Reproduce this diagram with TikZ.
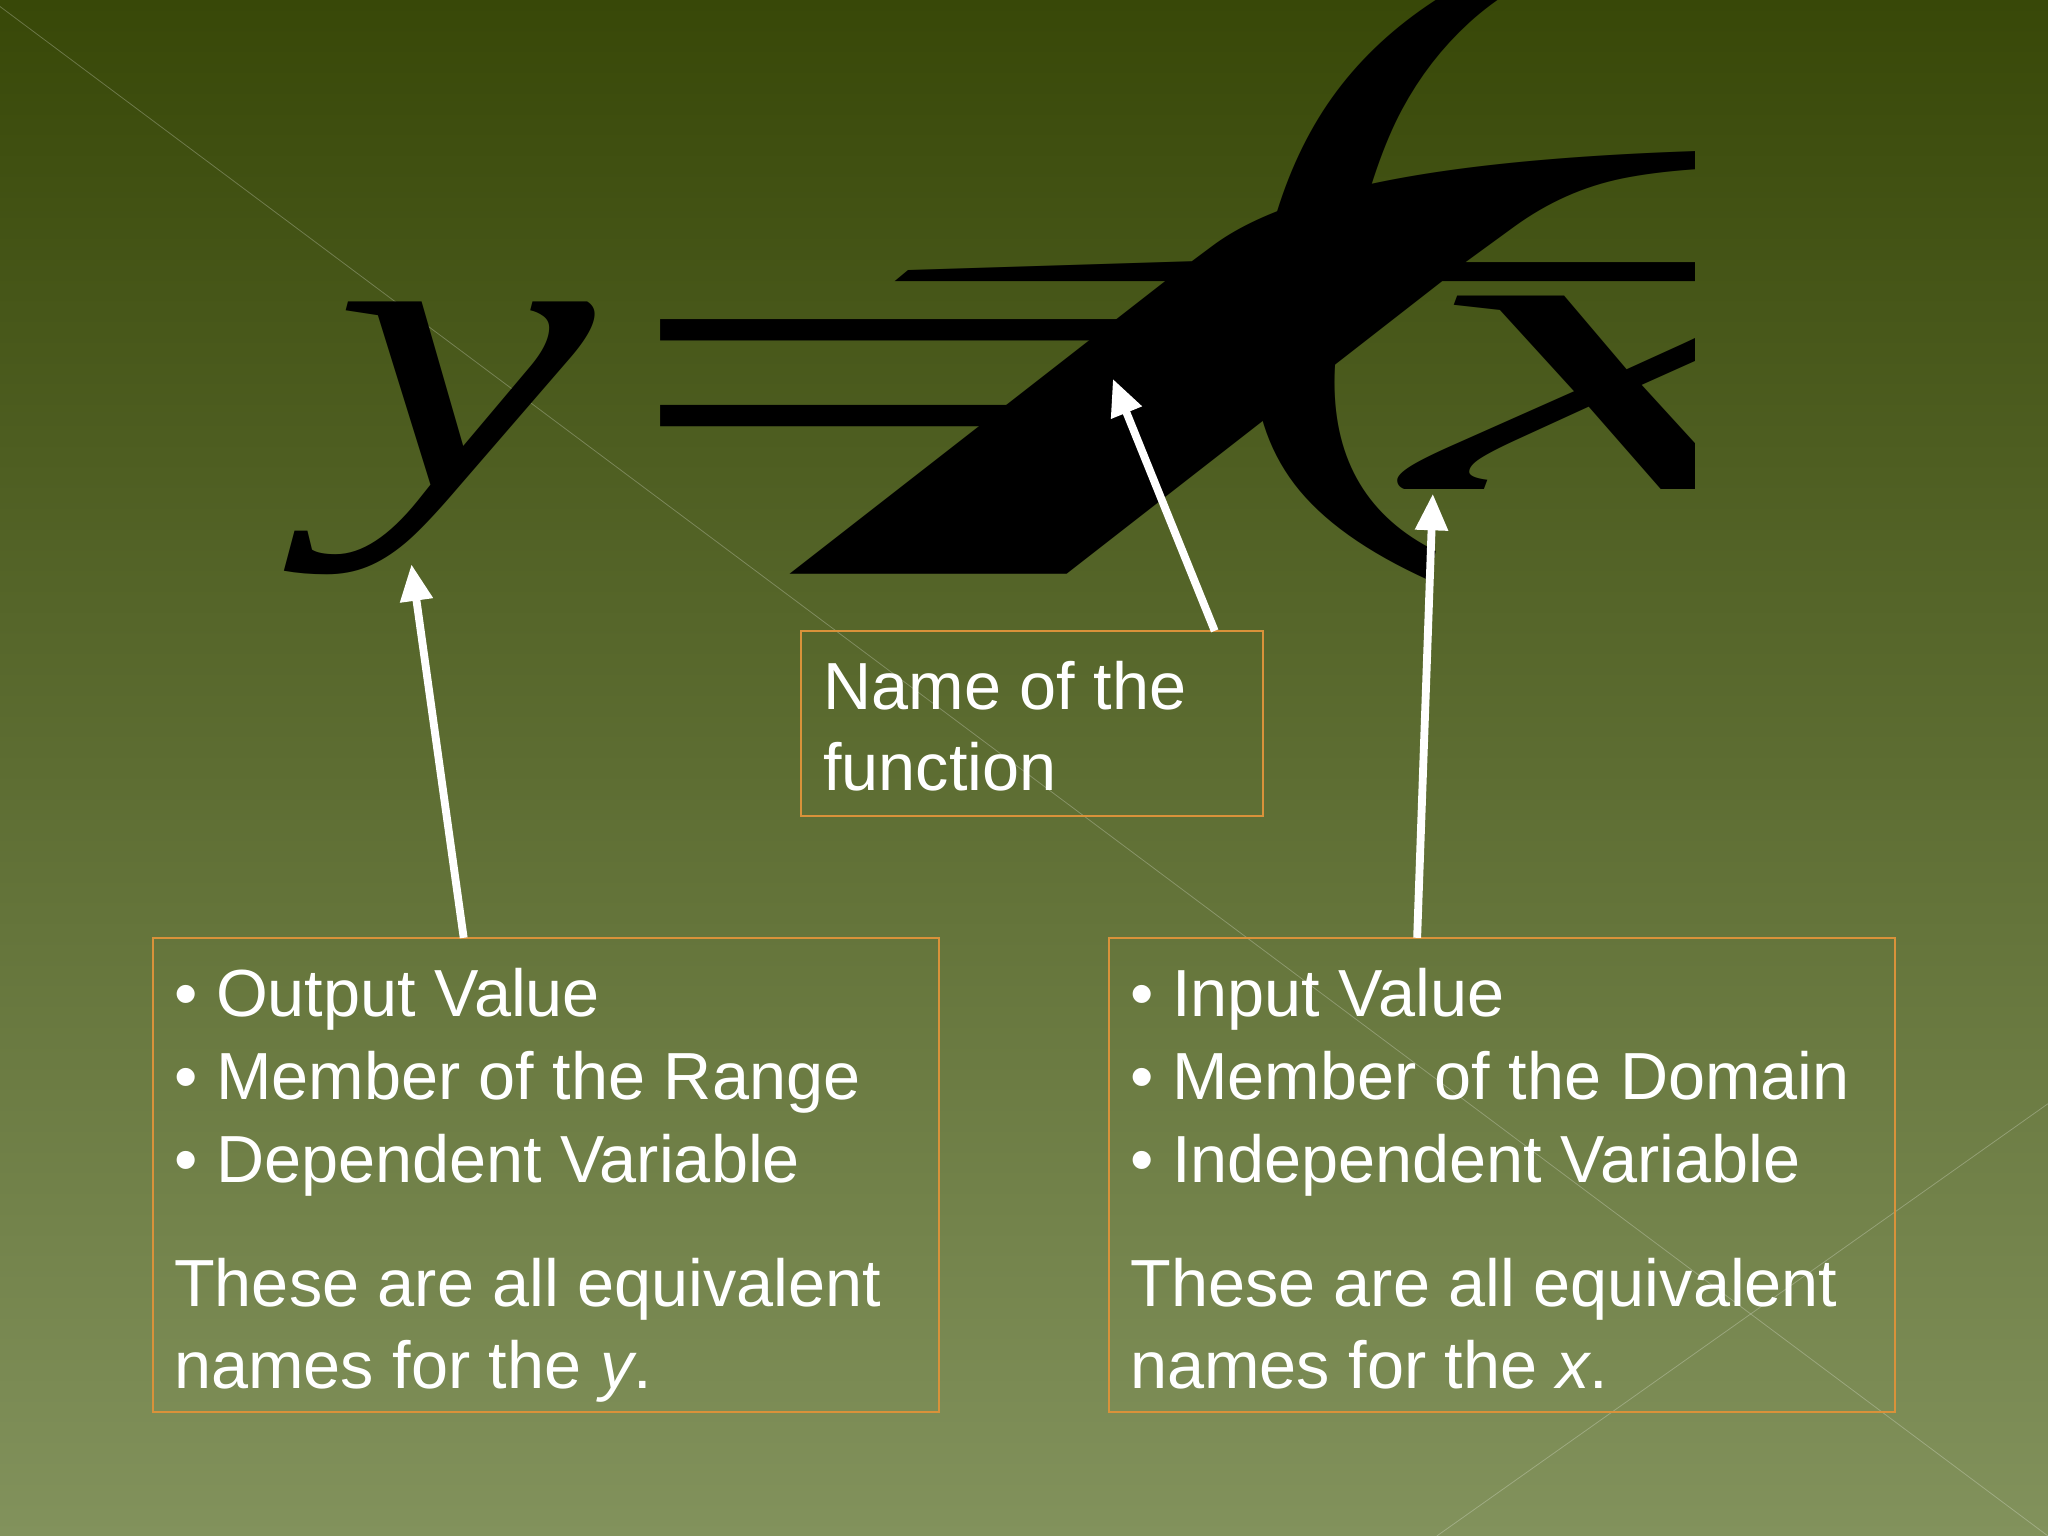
\documentclass[tikz,border=0pt]{standalone}
\usepackage{fontspec}
\setmainfont{Liberation Sans}
\newfontfamily\serifit{Liberation Serif}
\usetikzlibrary{arrows.meta}
\definecolor{boxline}{HTML}{D9923A}
\begin{document}
\begin{tikzpicture}[x=0.5pt,y=-0.5pt,
  box/.style={draw=boxline,line width=0.7pt},
  glyph/.style={anchor=south west,inner sep=0pt,outer sep=0pt},
  txt/.style={anchor=base west,inner sep=0pt,text=white,font=\fontsize{25.5}{31.5}\selectfont},
  arr/.style={draw=white,line width=3pt,-{Triangle[length=14pt,width=12pt]}}]
\useasboundingbox (0,0) rectangle (1568,1176);
\shade[top color={rgb,255:red,56;green,72;blue,8},bottom color={rgb,255:red,130;green,146;blue,92}] (0,0) rectangle (1568,1176);
\draw[white,opacity=0.25,line width=0.3pt] (0,5) -- (1568,1176);
\draw[white,opacity=0.25,line width=0.3pt] (1568,845) -- (1100,1176);
% formula (stretched glyphs)
\begin{scope}
\clip (0,0) rectangle (1297,1176);
\node[glyph] (gy) at (255,440) {\resizebox{100pt}{71pt}{\serifit\itshape y}};
\node[glyph] (geq) at (460,395) {\resizebox{260pt}{75pt}{\serifit =}};
\node[glyph] (gf) at (575,440) {\resizebox{360pt}{125pt}{\serifit\itshape f}};
\node[glyph] (gp) at (935,445) {\resizebox{118pt}{190pt}{\serifit\itshape (}};
\node[glyph] (gx) at (1078,375) {\resizebox{150pt}{74pt}{\serifit\itshape x}};
\end{scope}
% boxes
\draw[box] (613,483) rectangle (967,625);
\coordinate (nameTop) at (930,483);
\draw[box] (117,718) rectangle (719,1081);
\coordinate (leftTop) at (355,718);
\draw[box] (849,718) rectangle (1451,1081);
\coordinate (rightTop) at (1085,718);
\node[txt] (n1) at (630,543) {Name of the};
\node[txt] (n2) at (630,605) {function};
\node[txt] (l1) at (133,778) {• Output Value};
\node[txt] (l2) at (133,842) {• Member of the Range};
\node[txt] (l3) at (133,905) {• Dependent Variable};
\node[txt] (l4) at (133,1000) {These are all equivalent};
\node[txt] (l5) at (133,1063) {names for the \textit{y}.};
\node[txt] (r1) at (865,778) {• Input Value};
\node[txt] (r2) at (865,842) {• Member of the Domain};
\node[txt] (r3) at (865,905) {• Independent Variable};
\node[txt] (r4) at (865,1000) {These are all equivalent};
\node[txt] (r5) at (865,1063) {names for the \textit{x}.};
\coordinate (yEnd) at (315,432);
\coordinate (fEnd) at (852,290);
\coordinate (xEnd) at (1097,378);
\draw[arr] (leftTop) -- (yEnd);
\draw[arr] (nameTop) -- (fEnd);
\draw[arr] (rightTop) -- (xEnd);
\end{tikzpicture}
\end{document}
